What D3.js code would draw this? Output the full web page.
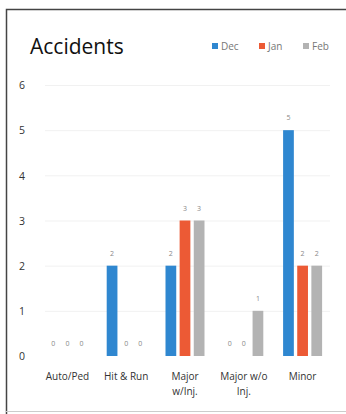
<!DOCTYPE html>
<html>
<head>
<meta charset="utf-8">
<script src="https://cdn.jsdelivr.net/npm/d3@7/dist/d3.min.js"></script>
<style>
  html, body { margin: 0; padding: 0; background: #fff; }
  svg { display: block; }
</style>
</head>
<body>
<svg id="chart" width="346" height="414"></svg>
<script>
// Accident counts per category for three months
const categories = [["Auto/Ped"], ["Hit & Run"], ["Major", "w/Inj."], ["Major w/o", "Inj."], ["Minor"]];
const months = ["Dec", "Jan", "Feb"];
const dec = [0, 2, 2, 0, 5];
const jan = [0, 0, 3, 0, 2];
const feb = [0, 0, 3, 1, 2];
const yTicks = [0, 1, 2, 3, 4, 5, 6];
const colors = ["#2f87d0", "#ec5a35", "#b3b3b3"];

const series = [dec, jan, feb];
const svg = d3.select("#chart");
const font = "'Open Sans', 'Noto Sans', sans-serif";

// frame
svg.append("path")
  .attr("d", "M6.5,414 L6.5,9.5 L346,9.5")
  .attr("fill", "none").attr("stroke", "#444").attr("stroke-width", 1.5);
svg.append("line").attr("x1", 6).attr("x2", 346).attr("y1", 411.5).attr("y2", 411.5)
  .attr("stroke", "#ccc").attr("stroke-width", 1);

const x0 = d3.scaleBand().domain(d3.range(categories.length)).range([38, 332]).paddingInner(0).paddingOuter(0);
const x1 = d3.scaleBand().domain(d3.range(months.length)).range([x0.bandwidth() / 2 - 19.5, x0.bandwidth() / 2 + 19.5]).paddingInner(0.24);
const y = d3.scaleLinear().domain([0, 6]).range([356, 85]);

// gridlines
svg.append("g").selectAll("line").data(yTicks.slice(1)).join("line")
  .attr("x1", 45).attr("x2", 330)
  .attr("y1", d => y(d) + 0.5).attr("y2", d => y(d) + 0.5)
  .attr("stroke", "#f1f1f1").attr("stroke-width", 1);

// y axis labels
const yAxis = d3.axisLeft(y).tickValues(yTicks).tickFormat(d3.format("d")).tickSize(0).tickPadding(0);
const yg = svg.append("g").attr("transform", "translate(22,0)").call(yAxis);
yg.select(".domain").remove();
yg.selectAll("text").attr("font-family", font).attr("font-size", 10.5).attr("fill", "#333").attr("text-anchor", "middle").attr("dy", "0.35em");

// bars
const groups = svg.append("g").selectAll("g").data(categories).join("g")
  .attr("transform", (d, i) => `translate(${x0(i)},0)`);
groups.selectAll("rect")
  .data((d, i) => series.map((s, k) => ({ k, v: s[i] })))
  .join("rect")
  .attr("x", d => x1(d.k))
  .attr("width", x1.bandwidth())
  .attr("y", d => y(d.v))
  .attr("height", d => y(0) - y(d.v))
  .attr("fill", d => colors[d.k]);
groups.selectAll("text.val")
  .data((d, i) => series.map((s, k) => ({ k, v: s[i] })))
  .join("text").attr("class", "val")
  .attr("x", d => x1(d.k) + x1.bandwidth() / 2)
  .attr("y", d => y(d.v) - 10)
  .attr("text-anchor", "middle")
  .attr("font-family", font).attr("font-size", 7).attr("fill", "#888")
  .text(d => d.v);

// category labels
const xg = svg.append("g").selectAll("text").data(categories).join("text")
  .attr("x", (d, i) => x0(i) + x0.bandwidth() / 2)
  .attr("y", 380)
  .attr("text-anchor", "middle")
  .attr("font-family", font).attr("font-size", 10).attr("fill", "#333");
xg.selectAll("tspan").data(d => d).join("tspan")
  .attr("x", function () { return d3.select(this.parentNode).attr("x"); })
  .attr("dy", (d, j) => j === 0 ? 0 : 15)
  .text(d => d);

// title
svg.append("text").attr("x", 30).attr("y", 54)
  .attr("font-family", font).attr("font-size", 21).attr("fill", "#111")
  .text("Accidents");

// legend
const legendX = [212, 259, 303];
const lg = svg.append("g").selectAll("g").data(months).join("g")
  .attr("transform", (d, i) => `translate(${legendX[i]},46)`);
lg.append("rect").attr("x", 0).attr("y", -3).attr("width", 6).attr("height", 6)
  .attr("fill", (d, i) => colors[i]);
lg.append("text").attr("x", 9).attr("y", 0).attr("dy", "0.35em")
  .attr("font-family", font).attr("font-size", 10).attr("fill", "#777")
  .text(d => d);
</script>
</body>
</html>
